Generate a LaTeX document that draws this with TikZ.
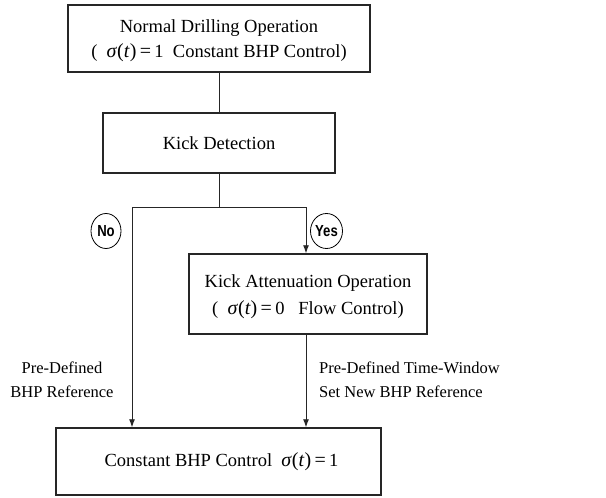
\documentclass[tikz,border=0pt]{standalone}
\usepackage{fontspec}
\setmainfont{Liberation Serif}
\newfontfamily\yesnofont[FakeStretch=0.82]{Liberation Sans}
\usetikzlibrary{arrows.meta,shapes.geometric}
\newcommand{\sig}{{\fontsize{20}{20}\selectfont\textit{σ}(\textit{t})}}
\newcommand{\eqsym}{{\fontsize{20}{20}\selectfont\,=\,}}
\begin{document}
\begin{tikzpicture}[x=1pt,y=-1pt,
  box/.style={draw=black!85,line width=1.5pt,fill=white,align=center,inner sep=0pt,font=\fontsize{18.5}{26}\selectfont},
  conn/.style={line width=0.9pt,draw=black!85},
  arr/.style={conn,-{Latex[length=8pt,width=6pt]}},
  yn/.style={draw,ellipse,line width=0.8pt,inner sep=0pt,minimum width=30pt,minimum height=35pt,font=\yesnofont\bfseries\fontsize{16}{18}\selectfont},
  lbl/.style={font=\fontsize{16.5}{24}\selectfont,inner sep=0pt}]
\useasboundingbox (0,0) rectangle (606,498);
\node[box,minimum width=302pt,minimum height=67pt] (n1) at (219,38.5) {};
\node[align=center,font=\fontsize{18.5}{25}\selectfont,inner sep=0pt] (t1) at (219,41) {Normal Drilling Operation\\(\ \ \sig\eqsym1\ \ Constant BHP Control)};
\node[box,minimum width=232pt,minimum height=60pt] (n2) at (219,143) {Kick Detection};
\node[box,minimum width=238pt,minimum height=80pt] (n3) at (308,294) {};
\node[align=center,font=\fontsize{18.5}{27}\selectfont,inner sep=0pt] (t3) at (308,297) {Kick Attenuation Operation\\(\ \ \sig\eqsym0\ \ \ Flow Control)};
\node[box,minimum width=325pt,minimum height=67pt] (n4) at (218.5,461.5) {\hspace{6pt}Constant BHP Control\ \ \sig\eqsym1};
\coordinate (j) at (219,207);
\coordinate (jl) at (132,207);
\coordinate (jr) at (306,207);
\draw[conn] (n1.south) -- (n2.north);
\draw[conn] (n2.south) -- (j);
\draw[conn] (jl) -- (jr);
\draw[arr] (jr) -- (jr |- n3.north);
\draw[arr] (jl) -- (jl |- n4.north);
\draw[arr] (jr |- n3.south) -- (jr |- n4.north);
\node[yn] (no) at (106,231) {No};
\node[yn] (yes) at (326.5,231) {Yes};
\node[lbl,align=center] (l1) at (62,380) {Pre-Defined\\BHP Reference};
\node[lbl,align=left,anchor=west] (l2) at (319,380) {Pre-Defined Time-Window\\Set New BHP Reference};
\end{tikzpicture}
\end{document}
